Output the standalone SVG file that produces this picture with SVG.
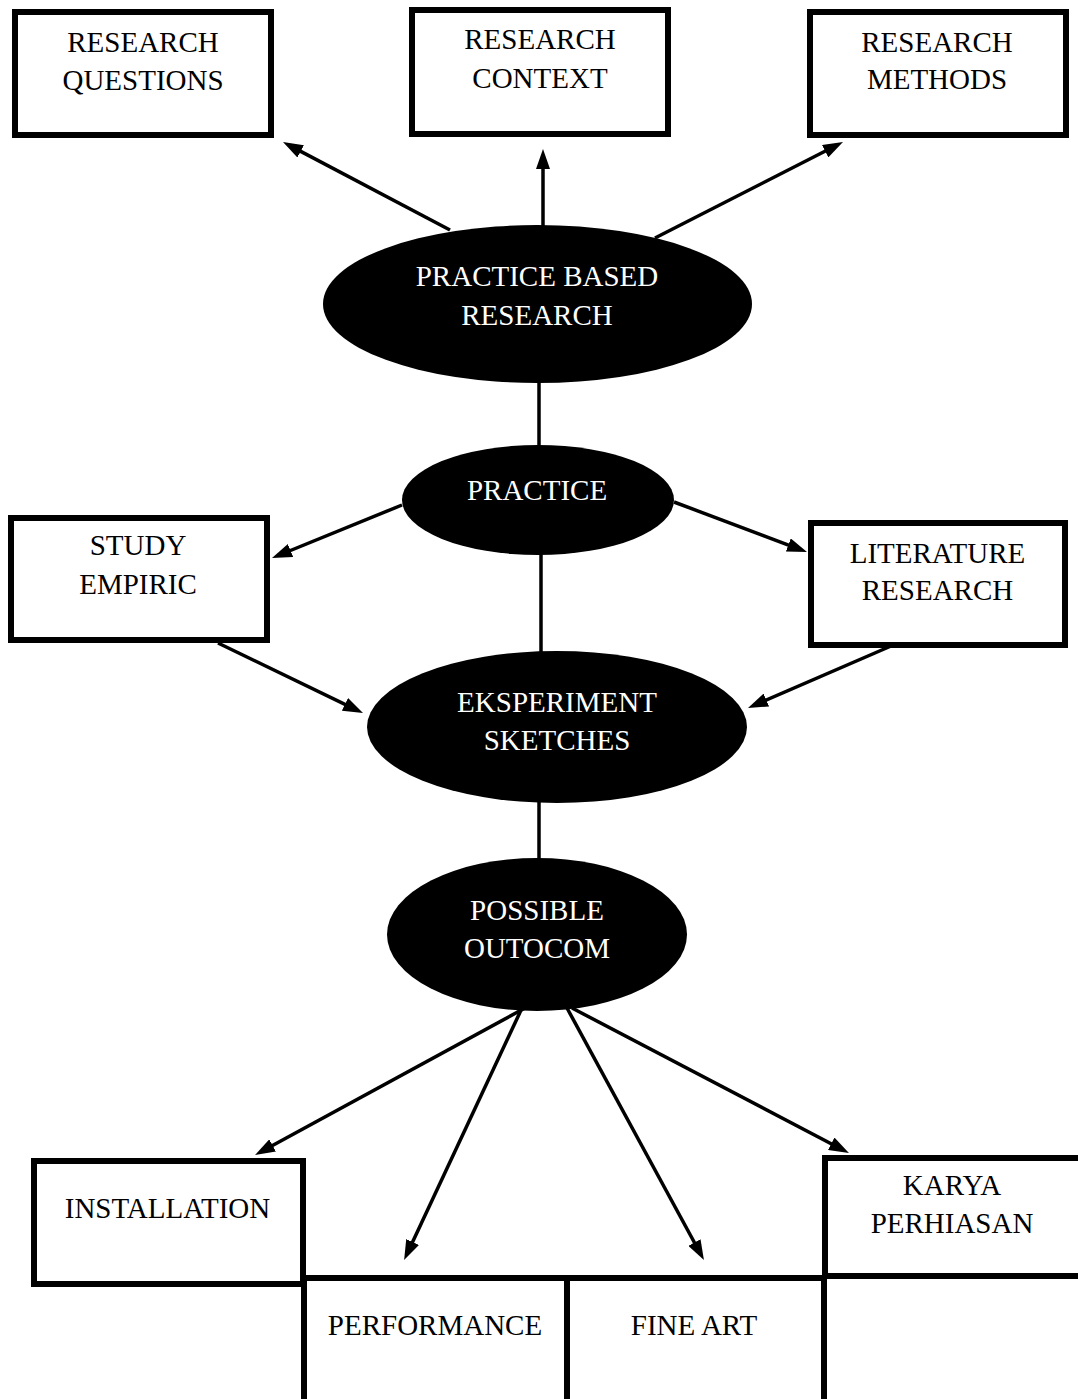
<svg xmlns="http://www.w3.org/2000/svg" width="1078" height="1399" viewBox="0 0 1078 1399">
<style>
.box{fill:#fff;stroke:#000;stroke-width:6}
.ell{fill:#000}
.t{font-family:"Liberation Serif","Times New Roman",serif;font-size:29px;text-anchor:middle;fill:#000}
.w{fill:#fff}
.c{stroke:#000;stroke-width:3.5;fill:none}
.a{marker-end:url(#ah)}
</style>
<defs>
<marker id="ah" markerUnits="userSpaceOnUse" markerWidth="20" markerHeight="14" refX="8" refY="7" orient="auto">
<path d="M0,0 L20,7 L0,14 z" fill="#000"/>
</marker>
</defs>
<rect width="1078" height="1399" fill="#fff"/>
<g id="connectors">
<line class="c a" x1="450" y1="230" x2="293.6" y2="147.6"/>
<line class="c a" x1="543" y1="228" x2="543" y2="161"/>
<line class="c a" x1="655" y1="238" x2="832.3" y2="147.5"/>
<line class="c" x1="539" y1="380" x2="539" y2="448"/>
<line class="c a" x1="402" y1="505" x2="283.1" y2="553.5"/>
<line class="c a" x1="674" y1="502" x2="795.8" y2="547.8"/>
<line class="c" x1="541" y1="552" x2="541" y2="654"/>
<line class="c a" x1="218" y1="643" x2="352.2" y2="707.8"/>
<line class="c a" x1="898" y1="643" x2="759" y2="703.2"/>
<line class="c" x1="539" y1="800" x2="539" y2="861"/>
<line class="c a" x1="525" y1="1008" x2="265.6" y2="1149.3"/>
<line class="c a" x1="522" y1="1008" x2="409.2" y2="1249.2"/>
<line class="c a" x1="567" y1="1008" x2="698.2" y2="1249.5"/>
<line class="c a" x1="572" y1="1008" x2="838.3" y2="1147.5"/>
</g>
<g id="research-questions">
<rect class="box" x="15" y="12" width="256" height="123"/>
<text class="t" x="143" y="52">RESEARCH</text>
<text class="t" x="143" y="90">QUESTIONS</text>
</g>
<g id="research-context">
<rect class="box" x="412" y="10" width="256" height="124"/>
<text class="t" x="540" y="49">RESEARCH</text>
<text class="t" x="540" y="88">CONTEXT</text>
</g>
<g id="research-methods">
<rect class="box" x="810" y="12" width="256" height="123"/>
<text class="t" x="937" y="52">RESEARCH</text>
<text class="t" x="937" y="89">METHODS</text>
</g>
<g id="practice-based-research">
<ellipse class="ell" cx="537.5" cy="304" rx="214.5" ry="79"/>
<text class="t w" x="537" y="286">PRACTICE BASED</text>
<text class="t w" x="537" y="325">RESEARCH</text>
</g>
<g id="practice">
<ellipse class="ell" cx="538" cy="500" rx="136" ry="55"/>
<text class="t w" x="537" y="500">PRACTICE</text>
</g>
<g id="study-empiric">
<rect class="box" x="11" y="518" width="256" height="122"/>
<text class="t" x="138" y="555">STUDY</text>
<text class="t" x="138" y="594">EMPIRIC</text>
</g>
<g id="literature-research">
<rect class="box" x="811" y="523" width="254" height="122"/>
<text class="t" x="937.5" y="563">LITERATURE</text>
<text class="t" x="937.5" y="600">RESEARCH</text>
</g>
<g id="eksperiment-sketches">
<ellipse class="ell" cx="557" cy="727" rx="190" ry="76"/>
<text class="t w" x="557" y="712">EKSPERIMENT</text>
<text class="t w" x="557" y="750">SKETCHES</text>
</g>
<g id="possible-outocom">
<ellipse class="ell" cx="537" cy="934.5" rx="150" ry="76.5"/>
<text class="t w" x="537" y="920">POSSIBLE</text>
<text class="t w" x="537" y="958">OUTOCOM</text>
</g>
<g id="installation">
<rect class="box" x="34" y="1161" width="269" height="123"/>
<text class="t" x="167.5" y="1218">INSTALLATION</text>
</g>
<g id="performance">
<rect class="box" x="304" y="1278" width="263" height="200"/>
<text class="t" x="435" y="1335">PERFORMANCE</text>
</g>
<g id="fine-art">
<rect class="box" x="567" y="1278" width="257" height="200"/>
<text class="t" x="694" y="1335">FINE ART</text>
</g>
<g id="karya-perhiasan">
<rect class="box" x="825" y="1158" width="300" height="118"/>
<text class="t" x="952" y="1195">KARYA</text>
<text class="t" x="952" y="1233">PERHIASAN</text>
</g>
</svg>
